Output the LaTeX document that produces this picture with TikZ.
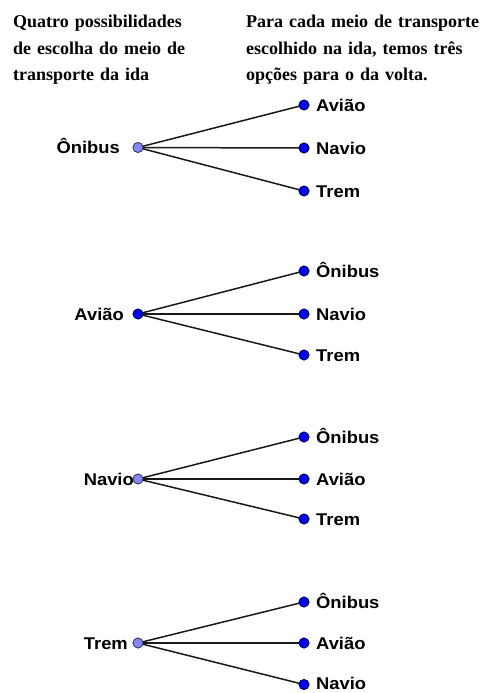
\documentclass[tikz,border=0pt]{standalone}
\usepackage{fontspec}
\newfontfamily\hdfont{Liberation Serif}
\newfontfamily\lbfont[FakeStretch=1.08]{Liberation Sans}
\definecolor{leaffill}{RGB}{0,0,240}
\definecolor{leafdraw}{RGB}{0,0,90}
\definecolor{rootfill}{RGB}{135,135,245}
\definecolor{rootdraw}{RGB}{50,50,90}
\definecolor{edgecol}{RGB}{25,25,25}
\begin{document}
\begin{tikzpicture}[x=1pt,y=-1pt,
  dotblue/.style={circle,draw=leafdraw,fill=leaffill,minimum size=10pt,inner sep=0pt,line width=0.7pt},
  dotlight/.style={circle,draw=rootdraw,fill=rootfill,minimum size=10pt,inner sep=0pt,line width=0.7pt},
  edge/.style={draw=edgecol,line width=1.5pt},
  lab/.style={font=\lbfont\bfseries\fontsize{17}{17}\selectfont,inner sep=0pt},
  hdr/.style={font=\hdfont\bfseries\fontsize{18}{26.5}\selectfont,align=left,inner sep=0pt,anchor=base west,text width=235pt}]
\fill[white] (0,0) rectangle (480,693);
\useasboundingbox (0,0) rectangle (480,693);
% headers
\node[hdr] (hL) at (13,28) {Quatro possibilidades\\de escolha do meio de\\transporte da ida};
\node[hdr] (hR) at (246,28) {Para cada meio de transporte\\escolhido na ida, temos três\\opções para o da volta.};
% group 1
\node[dotlight] (r1) at (138,147.5) {};
\node[dotblue] (c11) at (304,105) {};
\node[dotblue] (c12) at (304,148) {};
\node[dotblue] (c13) at (304,191) {};
\node[lab,anchor=base east] (lr1) at (120,153.5) {Ônibus};
\node[lab,anchor=base west] (l11) at (316,111) {Avião};
\node[lab,anchor=base west] (l12) at (316,154) {Navio};
\node[lab,anchor=base west] (l13) at (316,197) {Trem};
% group 2
\node[dotblue] (r2) at (138,314) {};
\node[dotblue] (c21) at (304,271) {};
\node[dotblue] (c22) at (304,314) {};
\node[dotblue] (c23) at (304,355) {};
\node[lab,anchor=base east] (lr2) at (124,320) {Avião};
\node[lab,anchor=base west] (l21) at (316,277) {Ônibus};
\node[lab,anchor=base west] (l22) at (316,320) {Navio};
\node[lab,anchor=base west] (l23) at (316,361) {Trem};
% group 3
\node[dotlight] (r3) at (138,479) {};
\node[dotblue] (c31) at (304,437) {};
\node[dotblue] (c32) at (304,479) {};
\node[dotblue] (c33) at (304,519) {};
\node[lab,anchor=base east] (lr3) at (134,485) {Navio};
\node[lab,anchor=base west] (l31) at (316,443) {Ônibus};
\node[lab,anchor=base west] (l32) at (316,485) {Avião};
\node[lab,anchor=base west] (l33) at (316,525) {Trem};
% group 4
\node[dotlight] (r4) at (138,643) {};
\node[dotblue] (c41) at (304,602) {};
\node[dotblue] (c42) at (304,643) {};
\node[dotblue] (c43) at (304,684.5) {};
\node[lab,anchor=base east] (lr4) at (128,649) {Trem};
\node[lab,anchor=base west] (l41) at (316,608) {Ônibus};
\node[lab,anchor=base west] (l42) at (316,649) {Avião};
\node[lab,anchor=base west] (l43) at (316,689.5) {Navio};
% edges
\foreach \g in {1,2,3,4}{
  \foreach \c in {1,2,3}{
    \draw[edge] (r\g.center) -- (c\g\c.center);
  }
}
% redraw dots on top of the edges
\foreach \g in {1,3,4}{\node[dotlight] at (r\g) {};}
\node[dotblue] at (r2) {};
\foreach \g in {1,2,3,4}{\foreach \c in {1,2,3}{\node[dotblue] at (c\g\c) {};}}
\end{tikzpicture}
\end{document}
